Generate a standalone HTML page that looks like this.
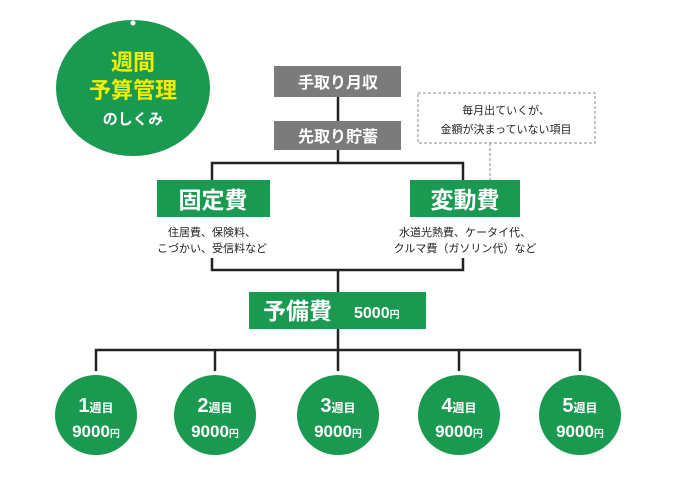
<!DOCTYPE html>
<html><head><meta charset="utf-8"><style>
body{margin:0;background:#fff;width:680px;height:481px;overflow:hidden}
svg{font-family:"Liberation Sans","Noto Sans CJK JP",sans-serif}
</style></head><body>
<svg width="680" height="481" viewBox="0 0 680 481">
<g fill="#1a9a50">
<ellipse cx="133" cy="88" rx="77" ry="68"/>
<rect x="157" y="180" width="113" height="37"/>
<rect x="410" y="180" width="110" height="37"/>
<rect x="249" y="292" width="177" height="37"/>
<ellipse cx="96" cy="415" rx="41" ry="40"/>
<ellipse cx="215" cy="415" rx="41" ry="40"/>
<ellipse cx="338" cy="415" rx="41" ry="40"/>
<ellipse cx="459" cy="415" rx="41" ry="40"/>
<ellipse cx="580" cy="415" rx="41" ry="40"/>
</g>
<circle cx="133" cy="23" r="2.5" fill="#fff"/>
<g fill="#7b7b7b"><rect x="274" y="66" width="127" height="31"/><rect x="274" y="121" width="127" height="29"/></g>
<g stroke="#222" stroke-width="2.5" fill="none">
<path d="M338 97V121M338 150V163M212 180V163H463V180"/>
<path d="M212 258V270H463V258M338 270V292M338 329V350M96 371V350H580V371M215 350V371M338 350V371M459 350V371"/>
</g>
<g stroke="#888" stroke-width="1" stroke-dasharray="3,2" fill="none">
<rect x="418" y="93" width="177" height="50"/><path d="M490 143V180"/>
</g>
<g text-anchor="middle" font-weight="bold">
<text x="133" y="70" font-size="22" fill="#f2ee00">週間</text>
<text x="133" y="98" font-size="22" fill="#f2ee00">予算管理</text>
<text x="133" y="124" font-size="15" fill="#fff">のしくみ</text>
<text x="338" y="88" font-size="16" fill="#fff">手取り月収</text>
<text x="338" y="142" font-size="16" fill="#fff">先取り貯蓄</text>
<text x="213" y="208" font-size="23" fill="#fff">固定費</text>
<text x="465" y="208" font-size="23" fill="#fff">変動費</text>
</g>
<g text-anchor="middle" font-size="11" fill="#222">
<text x="506" y="114">毎月出ていくが、</text>
<text x="506" y="133">金額が決まっていない項目</text>
<text x="212" y="236">住居費、保険料、</text>
<text x="212" y="252">こづかい、受信料など</text>
<text x="465" y="236">水道光熱費、ケータイ代、</text>
<text x="465" y="252">クルマ費（ガソリン代）など</text>
</g>
<text x="263" y="319" font-size="23" font-weight="bold" fill="#fff">予備費</text>
<text x="354" y="318" font-size="16" font-weight="bold" fill="#fff">5000<tspan font-size="10">円</tspan></text>
<g text-anchor="middle" fill="#fff" font-weight="bold">
<text x="96" y="412" font-size="20">1<tspan font-size="12">週目</tspan></text>
<text x="96" y="437" font-size="17">9000<tspan font-size="10">円</tspan></text>
<text x="215" y="412" font-size="20">2<tspan font-size="12">週目</tspan></text>
<text x="215" y="437" font-size="17">9000<tspan font-size="10">円</tspan></text>
<text x="338" y="412" font-size="20">3<tspan font-size="12">週目</tspan></text>
<text x="338" y="437" font-size="17">9000<tspan font-size="10">円</tspan></text>
<text x="459" y="412" font-size="20">4<tspan font-size="12">週目</tspan></text>
<text x="459" y="437" font-size="17">9000<tspan font-size="10">円</tspan></text>
<text x="580" y="412" font-size="20">5<tspan font-size="12">週目</tspan></text>
<text x="580" y="437" font-size="17">9000<tspan font-size="10">円</tspan></text>
</g>
</svg>
</body></html>
